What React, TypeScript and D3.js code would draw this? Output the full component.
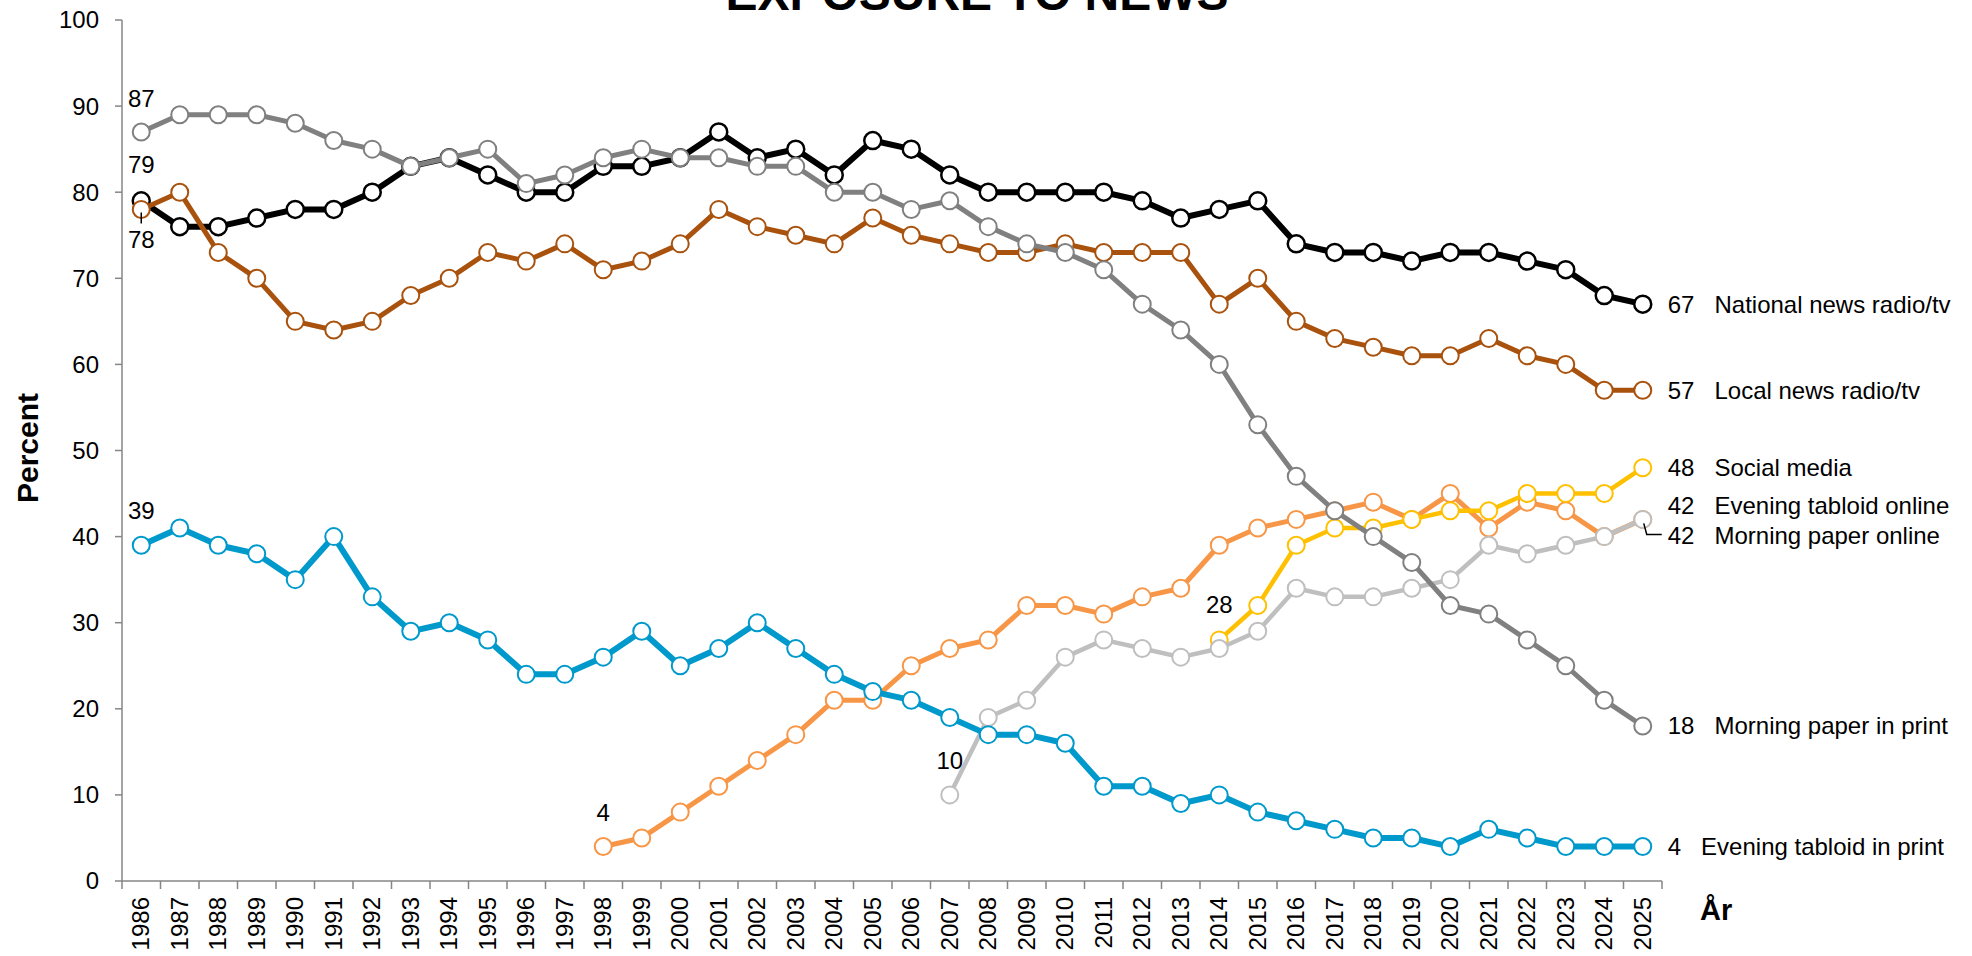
import React from 'react';
import * as d3 from 'd3';

const years = [
  '1986', '1987', '1988', '1989', '1990', '1991', '1992', '1993', '1994', '1995',
  '1996', '1997', '1998', '1999', '2000', '2001', '2002', '2003', '2004', '2005',
  '2006', '2007', '2008', '2009', '2010', '2011', '2012', '2013', '2014', '2015',
  '2016', '2017', '2018', '2019', '2020', '2021', '2022', '2023', '2024', '2025',
];

const nationalNews = [
  79, 76, 76, 77, 78, 78, 80, 83, 84, 82,
  80, 80, 83, 83, 84, 87, 84, 85, 82, 86,
  85, 82, 80, 80, 80, 80, 79, 77, 78, 79,
  74, 73, 73, 72, 73, 73, 72, 71, 68, 67,
];
const localNews = [
  78, 80, 73, 70, 65, 64, 65, 68, 70, 73,
  72, 74, 71, 72, 74, 78, 76, 75, 74, 77,
  75, 74, 73, 73, 74, 73, 73, 73, 67, 70,
  65, 63, 62, 61, 61, 63, 61, 60, 57, 57,
];
const morningPrint = [
  87, 89, 89, 89, 88, 86, 85, 83, 84, 85,
  81, 82, 84, 85, 84, 84, 83, 83, 80, 80,
  78, 79, 76, 74, 73, 71, 67, 64, 60, 53,
  47, 43, 40, 37, 32, 31, 28, 25, 21, 18,
];
const eveningPrint = [
  39, 41, 39, 38, 35, 40, 33, 29, 30, 28,
  24, 24, 26, 29, 25, 27, 30, 27, 24, 22,
  21, 19, 17, 17, 16, 11, 11, 9, 10, 8,
  7, 6, 5, 5, 4, 6, 5, 4, 4, 4,
];
const eveningOnline = [
  null, null, null, null, null, null, null, null, null, null,
  null, null, 4, 5, 8, 11, 14, 17, 21, 21,
  25, 27, 28, 32, 32, 31, 33, 34, 39, 41,
  42, 43, 44, 42, 45, 41, 44, 43, 40, 42,
];
const morningOnline = [
  null, null, null, null, null, null, null, null, null, null,
  null, null, null, null, null, null, null, null, null, null,
  null, 10, 19, 21, 26, 28, 27, 26, 27, 29,
  34, 33, 33, 34, 35, 39, 38, 39, 40, 42,
];
const socialMedia = [
  null, null, null, null, null, null, null, null, null, null,
  null, null, null, null, null, null, null, null, null, null,
  null, null, null, null, null, null, null, null, 28, 32,
  39, 41, 41, 42, 43, 43, 45, 45, 45, 48,
];

const yTicks = [0, 10, 20, 30, 40, 50, 60, 70, 80, 90, 100];

// draw order: first is at the bottom
const series = [
  { name: 'National news radio/tv', values: nationalNews, color: '#000000', width: 6, labelDy: 0 },
  { name: 'Local news radio/tv', values: localNews, color: '#A8520E', width: 5, labelDy: 0 },
  { name: 'Evening tabloid online', values: eveningOnline, color: '#F79646', width: 5, labelDy: -14 },
  { name: 'Social media', values: socialMedia, color: '#FFC000', width: 4.5, labelDy: 0 },
  { name: 'Morning paper online', values: morningOnline, color: '#BFBFBF', width: 4.5, labelDy: 16 },
  { name: 'Morning paper in print', values: morningPrint, color: '#808080', width: 5, labelDy: 0 },
  { name: 'Evening tabloid in print', values: eveningPrint, color: '#0099CC', width: 6, labelDy: 0 },
];

// first-value labels: [series values, year, offset]
const startLabels = [
  { values: morningPrint, year: '1986', dy: -25 },
  { values: nationalNews, year: '1986', dy: -28 },
  { values: localNews, year: '1986', dy: 39 },
  { values: eveningPrint, year: '1986', dy: -26 },
  { values: eveningOnline, year: '1998', dy: -26 },
  { values: morningOnline, year: '2007', dy: -26 },
  { values: socialMedia, year: '2014', dy: -27 },
];

const W = 1972, H = 956;
const left = 122, right = 1662, top = 20, bottom = 881;
const font = 'Arial, "Liberation Sans", sans-serif';

function App() {
  const x = d3.scaleBand().domain(years).range([left, right]);
  const y = d3.scaleLinear().domain([0, 100]).range([bottom, top]);
  const cx = (yr) => x(yr) + x.bandwidth() / 2;

  const line = d3.line()
    .defined((d) => d.v !== null)
    .x((d) => cx(d.year))
    .y((d) => y(d.v));

  const lastYear = years[years.length - 1];
  const labelX = cx(lastYear) + 25;

  return (
    <div style={{ position: 'absolute', left: 0, top: 0 }}>
      <svg width={W} height={H} style={{ display: 'block' }} fontFamily={font}>
        <rect width={W} height={H} fill="#ffffff" />
        <text x={977} y={10} textAnchor="middle" fontSize={48} fontWeight="bold">EXPOSURE TO NEWS</text>

        {/* y axis */}
        <line x1={left} x2={left} y1={top} y2={bottom} stroke="#868686" strokeWidth={1.5} />
        {yTicks.map((t) => (
          <g key={t}>
            <line x1={left - 7} x2={left} y1={y(t)} y2={y(t)} stroke="#868686" strokeWidth={1.5} />
            <text x={99} y={y(t)} dy="0.35em" textAnchor="end" fontSize={24}>{t}</text>
          </g>
        ))}
        <text transform={`translate(38,448) rotate(-90)`} textAnchor="middle" fontSize={30} fontWeight="bold">Percent</text>

        {/* x axis */}
        <line x1={left} x2={right} y1={bottom} y2={bottom} stroke="#868686" strokeWidth={1.5} />
        {years.map((yr) => (
          <g key={yr}>
            <line x1={x(yr)} x2={x(yr)} y1={bottom} y2={bottom + 8} stroke="#868686" strokeWidth={1.5} />
            <text transform={`translate(${cx(yr) + 8},897) rotate(-90)`} textAnchor="end" fontSize={24}>{yr}</text>
          </g>
        ))}
        <line x1={right} x2={right} y1={bottom} y2={bottom + 8} stroke="#868686" strokeWidth={1.5} />
        <text x={1700} y={920} fontSize={29} fontWeight="bold">År</text>

        {/* series */}
        {series.map((s) => {
          const pts = s.values.map((v, i) => ({ year: years[i], v }));
          return (
            <g key={s.name}>
              <path d={line(pts)} fill="none" stroke={s.color} strokeWidth={s.width} strokeLinejoin="round" />
              {pts.filter((p) => p.v !== null).map((p) => (
                <circle key={p.year} cx={cx(p.year)} cy={y(p.v)} r={8.5} fill="#ffffff"
                  stroke={s.color} strokeWidth={s.color === '#000000' ? 2.5 : 2} />
              ))}
            </g>
          );
        })}

        {/* start labels */}
        {startLabels.map((l, i) => {
          const v = l.values[years.indexOf(l.year)];
          return (
            <text key={i} x={cx(l.year)} y={y(v) + l.dy} textAnchor="middle" fontSize={24}>{v}</text>
          );
        })}
        <line x1={cx('1986')} x2={cx('1986')} y1={y(localNews[0]) + 3} y2={y(localNews[0]) + 14} stroke="#000" strokeWidth={1.5} />

        {/* end labels */}
        {series.map((s) => {
          const v = s.values[s.values.length - 1];
          return (
            <text key={s.name} x={labelX} y={y(v) + s.labelDy} dy="0.35em" fontSize={24} style={{ whiteSpace: 'pre' }}>
              {v}<tspan dx={20}>{s.name}</tspan>
            </text>
          );
        })}
        <polyline
          points={`${cx(lastYear) + 1},${y(morningOnline[39]) + 4} ${cx(lastYear) + 4},${y(morningOnline[39]) + 15} ${labelX - 6},${y(morningOnline[39]) + 15}`}
          fill="none" stroke="#000" strokeWidth={1.5} />
      </svg>
    </div>
  );
}

export default App;
